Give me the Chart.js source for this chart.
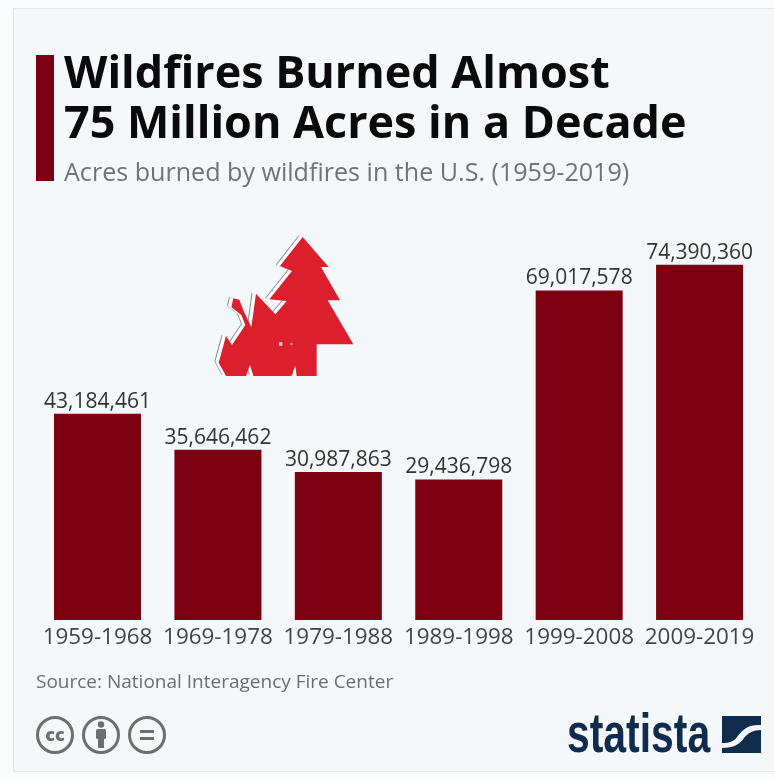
<!DOCTYPE html>
<html>
<head>
<meta charset="utf-8">
<style>
  html, body { margin: 0; padding: 0; background: #fbfcfd; }
  #page { position: relative; width: 774px; height: 778px; overflow: hidden; }
  #card { position: absolute; left: 13px; top: 8px; width: 770px; height: 764px; background: #f4f8fb; border: 1px solid #e6eaee; box-sizing: border-box; }
  #chart { position: absolute; left: 0; top: 0; }
  .txt { position: absolute; white-space: nowrap; font-family: "Open Sans", sans-serif; line-height: 1; }
  #accent { position: absolute; left: 36px; top: 55px; width: 18px; height: 126px; background: #7c000f; }
  #t1, #t2 { left: 64px; font-weight: 700; font-size: 44.9px; color: #0a0a0c; }
  #t1 { top: 49px; } #t2 { top: 99px; }
  #sub { left: 64px; top: 159px; font-size: 25.1px; color: #6d7378; }
  #src { left: 36px; top: 672px; font-size: 19px; color: #6a6e72; }
  #brand { left: 567px; top: 705px; font-family: "Liberation Sans", sans-serif; font-weight: 700; font-size: 56px; color: #0f2c4d; transform: scaleX(0.73); transform-origin: left top; }
  svg { position: absolute; }
</style>
</head>
<body>
<div id="page">
  <div id="card"></div>
  <canvas id="chart" width="774" height="778"></canvas>
  <div id="accent"></div>
  <div class="txt" id="t1">Wildfires Burned Almost</div>
  <div class="txt" id="t2">75 Million Acres in a Decade</div>
  <div class="txt" id="sub">Acres burned by wildfires in the U.S. (1959-2019)</div>
  <div class="txt" id="src">Source: National Interagency Fire Center</div>

  <!-- tree and flame emblem -->
  <svg style="left:190px;top:220px" width="180" height="170" viewBox="0 0 540 510">
    <defs>
      <path id="emblem" d="M330 48 L408 138 L385 138 L442 238 L405 238 L482 370 L372 370 L372 465 L312 465 L308 435 L296 465 L182 465 L172 432 L160 465 L100 465 L78 425 L100 345 L118 372 L158 312 L146 282 L116 258 L122 232 L140 236 L154 272 L176 318 L190 218 L248 280 L282 240 L230 235 L298 150 L262 135 Z"/>
    </defs>
    <use href="#emblem" fill="#8d8d92" transform="translate(-5,-1)"/>
    <use href="#emblem" fill="#ffffff" transform="translate(-2,0)"/>
    <use href="#emblem" fill="#db1f2c" transform="translate(8,3)"/>
    <circle cx="272" cy="372" r="6" fill="#f0c9cc"/>
    <circle cx="305" cy="372" r="3" fill="#f0c9cc"/>
  </svg>

  <!-- licence badges -->
  <svg style="left:30px;top:710px" width="145" height="50" viewBox="0 0 145 50">
    <g fill="none" stroke="#6e6e6e" stroke-width="3">
      <circle cx="25" cy="25" r="17.5"/>
      <circle cx="71" cy="25" r="17.5"/>
      <circle cx="117" cy="25" r="17.5"/>
    </g>
    <text x="25" y="31" text-anchor="middle" font-family="Open Sans" font-weight="800" font-size="18" fill="#6e6e6e">cc</text>
    <g fill="#6e6e6e">
      <circle cx="71" cy="14.5" r="3.2"/>
      <rect x="66" y="19" width="10" height="10" rx="1.5"/>
      <rect x="68" y="28" width="6" height="10"/>
      <rect x="110" y="20" width="14" height="3"/>
      <rect x="110" y="27" width="14" height="3"/>
    </g>
  </svg>

  <div class="txt" id="brand">statista</div>
  <!-- brand mark -->
  <svg style="left:722px;top:716px" width="40" height="38" viewBox="0 0 40 38">
    <path d="M0 0 H39 V9 C26 8 20 14 15 21 C12 25 8 27 0 27 Z" fill="#0f2c4d"/>
    <path d="M39 14 V37 H0 V32 C12 32 18 28 22 22 C26 17 31 14 39 14 Z" fill="#0f2c4d"/>
  </svg>
</div>

<script src="https://cdn.jsdelivr.net/npm/chart.js@4"></script>
<script>
// Acres burned per period
const periods = ["1959-1968", "1969-1978", "1979-1988", "1989-1998", "1999-2008", "2009-2019"];
const acresBurned = [43184461, 35646462, 30987863, 29436798, 69017578, 74390360];

// Prints each bar's value just above the bar
const barValueLabels = {
  id: "barValueLabels",
  afterDatasetsDraw(chart) {
    const { ctx } = chart;
    ctx.save();
    ctx.font = '400 21px "Open Sans", sans-serif';
    ctx.fillStyle = "#333333";
    ctx.textAlign = "center";
    ctx.textBaseline = "alphabetic";
    chart.getDatasetMeta(0).data.forEach((bar, i) => {
      ctx.fillText(acresBurned[i].toLocaleString("en-US"), bar.x, bar.y - 6);
    });
    ctx.restore();
  }
};

new Chart(document.getElementById("chart"), {
  type: "bar",
  data: {
    labels: periods,
    datasets: [{
      data: acresBurned,
      backgroundColor: "#7c000f",
      borderWidth: 0,
      categoryPercentage: 1,
      barPercentage: 0.7226
    }]
  },
  plugins: [barValueLabels],
  options: {
    responsive: false,
    animation: false,
    layout: { padding: { left: 37.3, right: 14.2, top: 238, bottom: 0 } },
    plugins: { legend: { display: false }, tooltip: { enabled: false } },
    scales: {
      x: {
        grid: { display: false },
        border: { display: false },
        afterFit(scale) { scale.height = 158; },
        ticks: { color: "#404448", font: { family: '"Open Sans", sans-serif', size: 22.4 }, padding: -4, maxRotation: 0, autoSkip: false }
      },
      y: { display: false, min: 0, max: 80000000 }
    }
  }
});
</script>
</body>
</html>
